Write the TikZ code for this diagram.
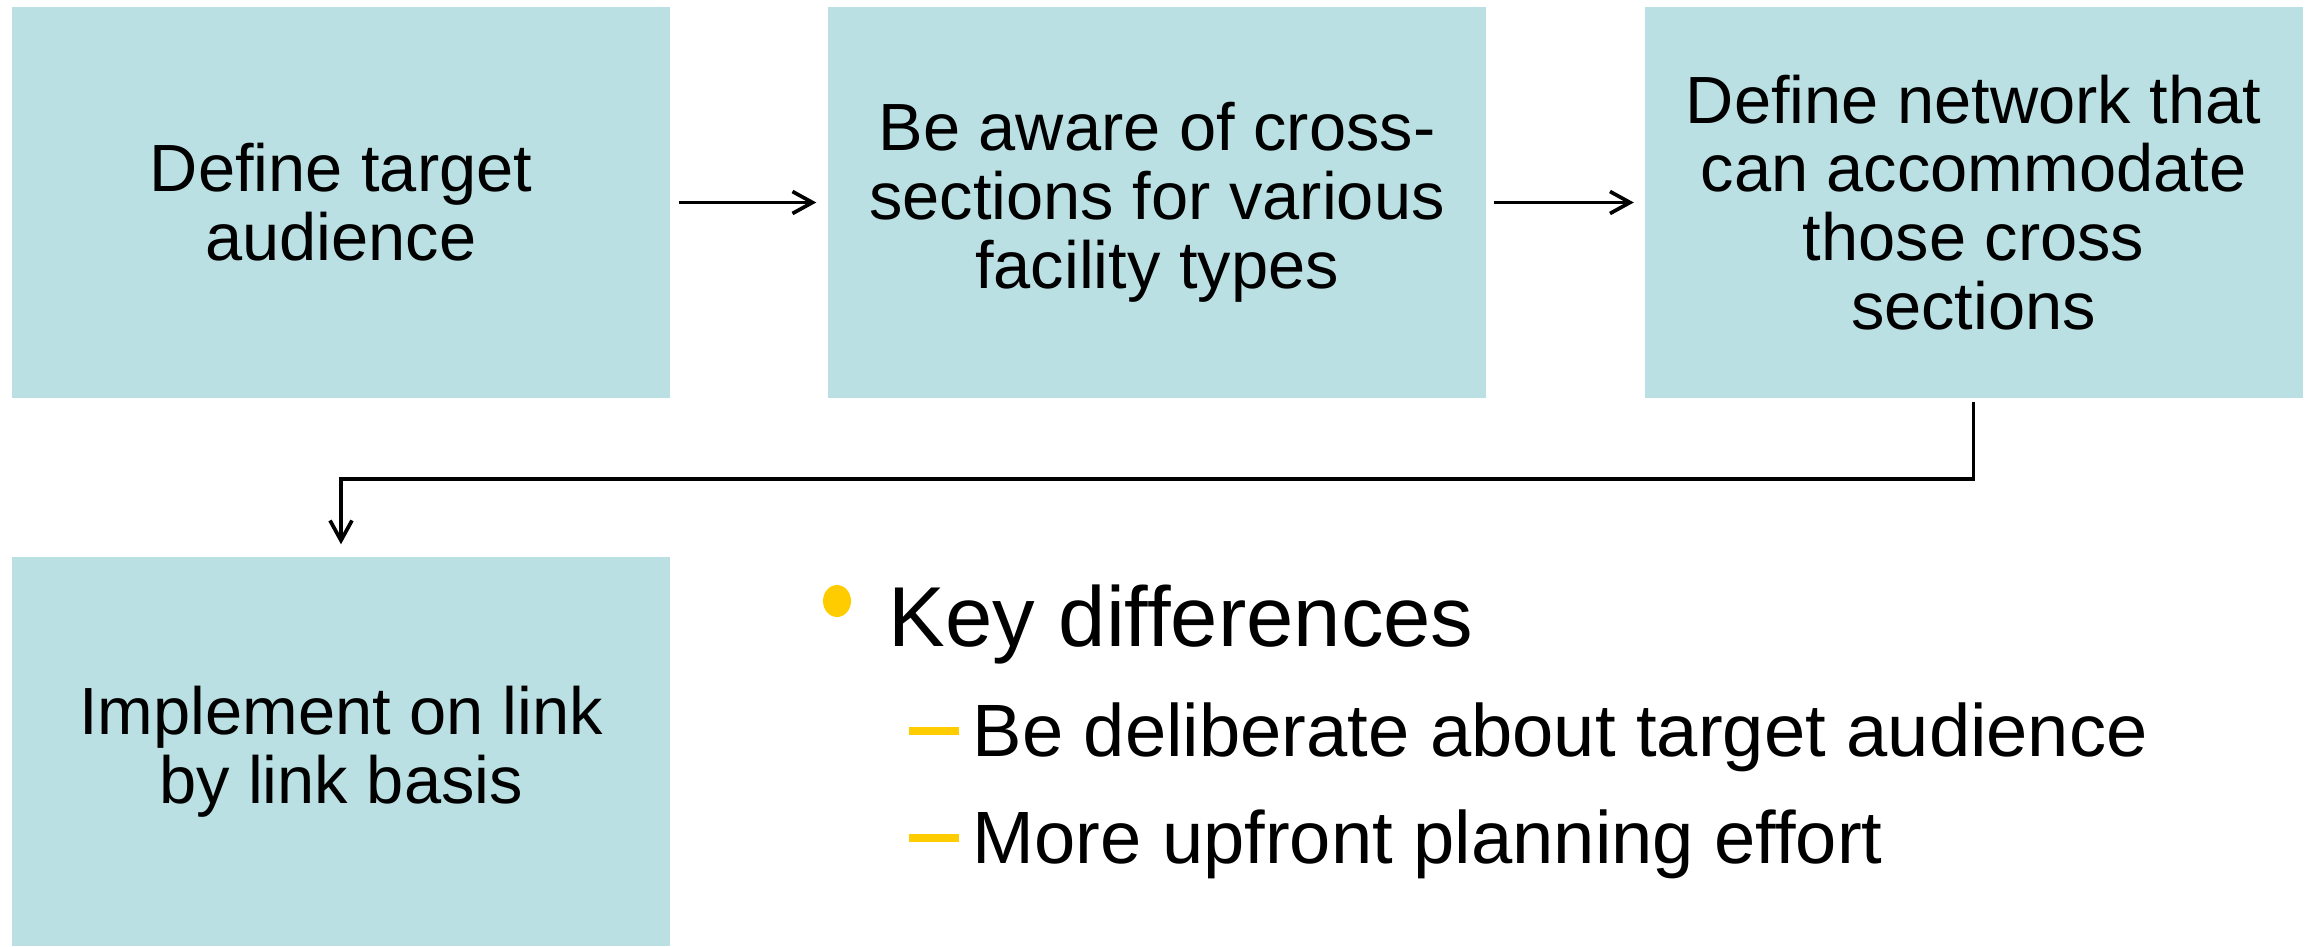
\documentclass[tikz,border=0pt]{standalone}
\usepackage{fontspec}
\setmainfont{Liberation Sans}
\usetikzlibrary{arrows.meta}
\definecolor{boxteal}{RGB}{186,224,227}
\definecolor{bulletgold}{RGB}{255,204,0}
\tikzset{
  stepbox/.style={fill=boxteal, minimum width=6.58cm, minimum height=3.91cm,
    align=center, inner sep=0pt, font=\fontsize{19}{19.6}\selectfont},
  flow/.style={line width=1.05pt, -{Straight Barb[length=2mm,width=2.2mm]}},
  dashmark/.style={line width=0.08cm, draw=bulletgold},
}

\begin{document}
\begin{tikzpicture}
          \useasboundingbox (0,0) rectangle (23.10,9.46);
          % the four steps
          \node [stepbox] (define) at (3.41,7.435) {Define target\\audience};
          \node [stepbox] (aware) at (11.57,7.435) {Be aware of cross-\\sections for various\\facility types};
          \node [stepbox] (network) at (19.735,7.435) {Define network that\\can accommodate\\those cross\\sections};
          \node [stepbox, minimum height=3.89cm] (implement) at (3.41,1.945) {Implement on link\\by link basis};
          \draw [flow, shorten <=0.08cm, shorten >=0.11cm] (define) -- (aware);
          \draw [flow, shorten <=0.07cm, shorten >=0.10cm] (aware) -- (network);
          \draw [flow, shorten <=0.03cm, shorten >=0.12cm] (network.south) -- ++(0,-0.80) -| (implement.north);
          % bullets
          \fill [bulletgold] (8.37,3.45) ellipse (0.14 and 0.16);
          \node [anchor=base west, inner sep=0pt, font=\fontsize{24.2}{28}\selectfont] (keydiff) at (8.88,3.00) {Key differences};
          \draw [dashmark] (9.09,2.15) -- (9.59,2.15);
          \node [anchor=base west, inner sep=0pt, font=\fontsize{21.1}{24}\selectfont] (deliberate) at (9.72,1.90) {Be deliberate about target audience};
          \draw [dashmark] (9.09,1.08) -- (9.59,1.08);
          \node [anchor=base west, inner sep=0pt, font=\fontsize{21.1}{24}\selectfont] (upfront) at (9.72,0.83) {More upfront planning effort};
        \end{tikzpicture}
\end{document}
